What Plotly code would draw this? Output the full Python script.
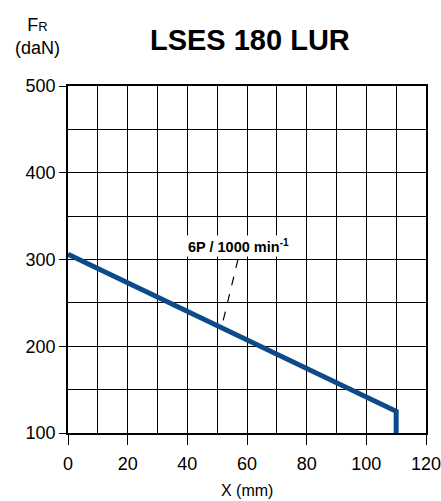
import plotly.graph_objects as go

# Data
x_mm = [0, 110, 110]
fr_daN = [306, 125, 100]
curve_label = "6P / 1000 min<sup>-1</sup>"
x_ticks = [0, 20, 40, 60, 80, 100, 120]
y_ticks = [100, 200, 300, 400, 500]

FONT = "Liberation Sans, Arial, sans-serif"

fig = go.Figure()
fig.add_trace(go.Scatter(
    x=x_mm, y=fr_daN, mode="lines",
    line=dict(color="#0d4a8a", width=5),
    showlegend=False, hoverinfo="skip",
))

# leader line for label
fig.add_shape(type="line", x0=57.0, y0=300.5, x1=51.4, y1=221,
              line=dict(color="black", width=1.2, dash="dash"), layer="above")
fig.add_annotation(x=57.3, y=315.5, text="<b>" + curve_label + "</b>", showarrow=False,
                   bgcolor="white", borderpad=1,
                   font=dict(family=FONT, size=14.5, color="black"))

fig.update_layout(
    width=441, height=501,
    margin=dict(l=68, r=15, t=86, b=68),
    paper_bgcolor="white", plot_bgcolor="white",
    title=dict(text="<b>LSES 180 LUR</b>", xref="paper", x=0.508, xanchor="center",
               yref="container", y=0.92, yanchor="middle",
               font=dict(family=FONT, size=29, color="black")),
    xaxis=dict(range=[0, 120], tickvals=x_ticks, showgrid=False, zeroline=False, automargin=False,
               showline=True, linecolor="black", linewidth=1.5, mirror=True,
               ticks="outside", ticklen=10, tickcolor="black", tickwidth=1.2,
               ticklabelstandoff=4, ticklabeloverflow="allow",
               tickfont=dict(family=FONT, size=18, color="black"),
               minor=dict(dtick=10, showgrid=True, gridcolor="black", gridwidth=1, ticklen=0)),
    yaxis=dict(range=[100, 500], tickvals=y_ticks, showgrid=False, zeroline=False, automargin=False,
               showline=True, linecolor="black", linewidth=1.5, mirror=True,
               ticks="outside", ticklen=7, tickcolor="black", tickwidth=1.2,
               ticklabeloverflow="allow",
               tickfont=dict(family=FONT, size=18, color="black"),
               minor=dict(dtick=50, showgrid=True, gridcolor="black", gridwidth=1, ticklen=0)),
)

fig.add_annotation(xref="paper", yref="paper", x=0.5, y=-0.167, xanchor="center", yanchor="middle",
                   text="X (mm)", showarrow=False, font=dict(family=FONT, size=16, color="black"))

fig.add_annotation(xref="paper", yref="paper", x=-0.084, y=1.075, xanchor="center", yanchor="bottom",
                   text="F<span style='font-size:13px'>R</span><br>(daN)", showarrow=False,
                   align="center", font=dict(family=FONT, size=18, color="black"))

fig.write_html("out.html", config={"displayModeBar": False},
               post_script="document.body.style.margin='0';")
